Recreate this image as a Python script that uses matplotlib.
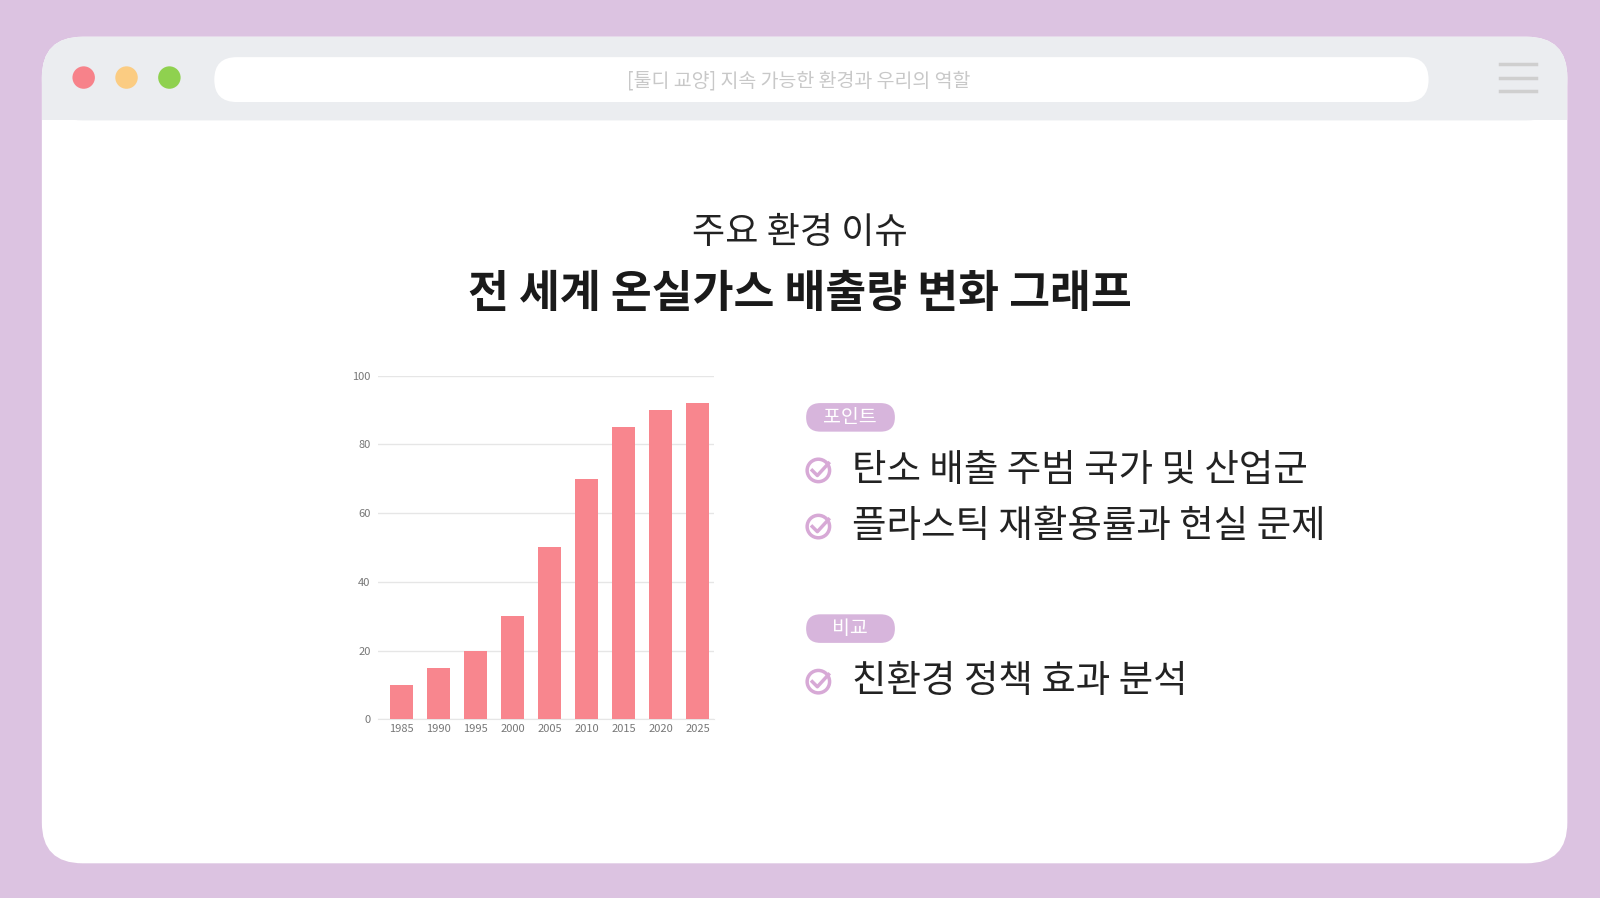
import matplotlib.pyplot as plt
from matplotlib.patches import FancyBboxPatch, Circle

plt.rcParams['font.family'] = ['Noto Sans CJK KR', 'DejaVu Sans']

years = ['1985', '1990', '1995', '2000', '2005', '2010', '2015', '2020', '2025']
emissions = [10, 15, 20, 30, 50, 70, 85, 90, 92]
y_ticks = [0, 20, 40, 60, 80, 100]

W, H = 1568, 880
fig = plt.figure(figsize=(16, 8.98), dpi=100)
fig.patch.set_facecolor('#dcc3e1')

# background canvas in pixel coordinates (y downward)
bg = fig.add_axes([0, 0, 1, 1])
bg.set_xlim(0, W)
bg.set_ylim(H, 0)
bg.axis('off')

bg.add_patch(FancyBboxPatch((41, 36), 1495, 810, boxstyle='round,pad=0,rounding_size=40',
                            fc='white', ec='none'))
bg.add_patch(FancyBboxPatch((41, 36), 1495, 82, boxstyle='round,pad=0,rounding_size=40',
                            fc='#ebedf0', ec='none'))
bg.add_patch(plt.Rectangle((41, 80), 1495, 38, fc='#ebedf0', ec='none'))
for x, c in [(82, '#f7828a'), (124, '#fbcc82'), (166, '#8fd14f')]:
    bg.add_patch(Circle((x, 76), 11, fc=c, ec='none'))
bg.add_patch(FancyBboxPatch((210, 56), 1190, 44, boxstyle='round,pad=0,rounding_size=22',
                            fc='white', ec='none'))
bg.text(783, 79, '[툴디 교양] 지속 가능한 환경과 우리의 역할', ha='center', va='center',
        fontsize=14, color='#c8c8c8')
for y in [63, 76, 89]:
    bg.plot([1470, 1505], [y, y], color='#cfcfcf', lw=2.5)

bg.text(784, 228, '주요 환경 이슈', ha='center', va='center', fontsize=26, color='#222222')
bg.text(784, 288, '전 세계 온실가스 배출량 변화 그래프', ha='center', va='center',
        fontsize=32, fontweight='black', color='#1a1a1a')

# right side bullet list
def tag(y, label):
    bg.add_patch(FancyBboxPatch((790, y - 14), 87, 28, boxstyle='round,pad=0,rounding_size=14',
                                fc='#d7b5dc', ec='none'))
    bg.text(833, y, label, ha='center', va='center', fontsize=14, color='white')

def item(y, label):
    bg.add_patch(Circle((802, y), 11, fc='none', ec='#d7a9d6', lw=2.5))
    bg.plot([796, 801, 812], [y, y + 5, y - 7], color='#d7a9d6', lw=2.5)
    bg.text(835, y, label, ha='left', va='center', fontsize=27, color='#222222')

tag(409, '포인트')
item(461, '탄소 배출 주범 국가 및 산업군')
item(516, '플라스틱 재활용률과 현실 문제')
tag(616, '비교')
item(668, '친환경 정책 효과 분석')

# bar chart
ax = fig.add_axes([370 / W, 1 - 705 / H, 330 / W, 337 / H])
ax.bar(years, emissions, width=0.62, color='#f8868e', zorder=3)
ax.set_ylim(0, 100)
ax.set_xlim(-0.65, len(years) - 0.55)
ax.set_yticks(y_ticks)
ax.grid(axis='y', color='#e6e6e6', lw=1, zorder=0)
for s in ax.spines.values():
    s.set_visible(False)
ax.spines['bottom'].set_visible(True)
ax.spines['bottom'].set_color('#e6e6e6')
ax.tick_params(length=0, labelsize=8, colors='#777777', pad=3)
ax.tick_params(axis='y', pad=5)
ax.set_facecolor('none')

fig.savefig('out.png', dpi=100, facecolor=fig.get_facecolor())
